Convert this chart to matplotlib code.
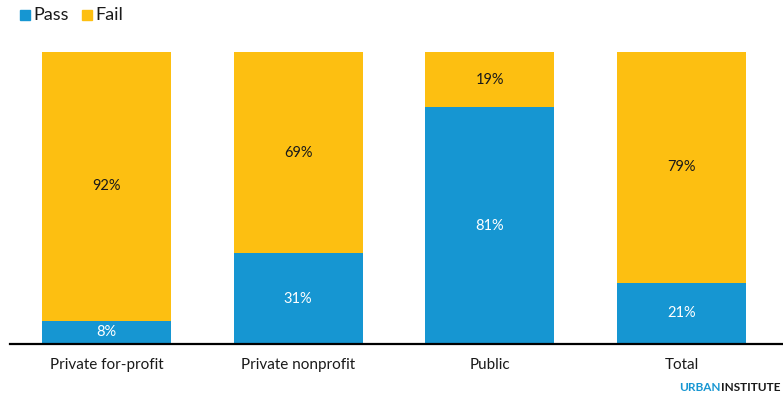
import matplotlib
matplotlib.use("Agg")
import matplotlib.pyplot as plt
from matplotlib.patches import Rectangle

plt.rcParams['font.family'] = ['Lato', 'DejaVu Sans']

categories = ["Private for-profit", "Private nonprofit", "Public", "Total"]
pass_vals = [8, 31, 81, 21]
fail_vals = [92, 69, 19, 79]
series = ["Pass", "Fail"]
colors = ["#1696d2", "#fdbf11"]

fig = plt.figure(figsize=(7.83, 3.98), dpi=100)
ax = fig.add_axes([10/783, 54/398, 773/783, 292/398])
x = list(range(len(categories)))
w = 0.673
ax.bar(x, pass_vals, width=w, color=colors[0], zorder=2)
ax.bar(x, fail_vals, width=w, bottom=pass_vals, color=colors[1], zorder=2)

for i in x:
    ax.text(i, pass_vals[i] / 2, f"{pass_vals[i]}%", ha="center", va="center",
            color="white", fontsize=10.5)
    ax.text(i, pass_vals[i] + fail_vals[i] / 2, f"{fail_vals[i]}%", ha="center",
            va="center", color="#1a1a1a", fontsize=10.5)

ax.set_xlim(-0.503, 3.529)
ax.set_ylim(0, 100)
for s in ["top", "right", "left"]:
    ax.spines[s].set_visible(False)
ax.spines["bottom"].set_linewidth(1.6)
ax.spines["bottom"].set_color("black")
ax.spines["bottom"].set_zorder(3)
ax.set_yticks([])
ax.set_xticks(x)
ax.set_xticklabels(categories, fontsize=11, color="#1a1a1a")
ax.tick_params(axis="x", length=0, pad=10)

# legend
for j, (name, c) in enumerate(zip(series, colors)):
    x0 = [20, 82][j]
    fig.patches.append(Rectangle((x0/783, 1 - 20/398), 10/783, 10/398,
                                 transform=fig.transFigure, color=c))
    fig.text((x0 + 13)/783, 1 - 15/398, name, fontsize=13, va="center",
             color="#1a1a1a")

fig.text(679/783, 1 - 391/398, "URBAN", fontsize=8.5, fontweight="bold",
         color="#1696d2", va="baseline")
fig.text(721/783, 1 - 391/398, "INSTITUTE", fontsize=8.5, fontweight="bold",
         color="#1a1a1a", va="baseline")

fig.savefig("out.png", dpi=100)
